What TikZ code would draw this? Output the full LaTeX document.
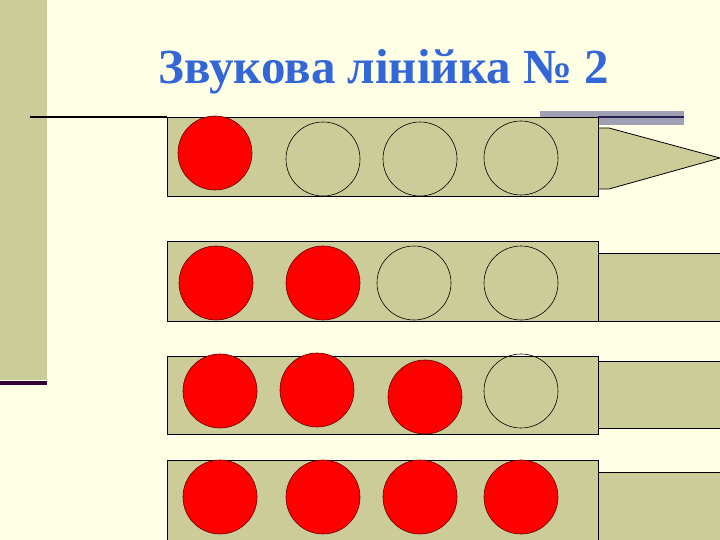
\documentclass[tikz,border=0pt]{standalone}
\usepackage{fontspec}
\setmainfont{Liberation Serif}
\usetikzlibrary{positioning}
\definecolor{paper}{RGB}{255,255,229}
\definecolor{khaki}{RGB}{204,204,153}
\definecolor{titleblue}{RGB}{51,102,214}
\definecolor{plum}{RGB}{51,0,51}
\definecolor{slate}{RGB}{160,160,180}
\definecolor{navy}{RGB}{40,30,80}

\begin{document}
\begin{tikzpicture}[x=1pt,y=-1pt,
	ruler/.style={draw=black, fill=khaki, line width=0.8pt},
	sound/.style={draw=black!60!red, fill=red, line width=0.6pt},
	hole/.style={draw=black, line width=0.6pt}]
	\useasboundingbox[fill=paper] (0,0) rectangle (720,540);
	% left band
	\fill[khaki] (0,0) rectangle (47,380);
	\fill[plum] (0,381) rectangle (47,385);
	% title
	\node[font=\bfseries\fontsize{49}{49}\selectfont, text=titleblue] (title) at (384,72) {Звукова лінійка № 2};
	% top lines
	\fill[slate] (540,111) rectangle (684,125);
	\draw[line width=1.2pt] (30,117) -- (167,117);
	\draw[navy, line width=2pt] (598,117) -- (684,117);
	% row 1
	\draw[ruler] (598,128) -- (609,128) -- (720,158) -- (609,189) -- (598,189);
	\draw[ruler] (167,117) rectangle (598,196);
	\draw[sound] (215,153) circle (37pt);
	\draw[hole] (323,159) circle (37pt);
	\draw[hole] (420,159) circle (37pt);
	\draw[hole] (521,158) circle (37pt);
	% row 2
	\draw[ruler] (720,253) -- (598,253) -- (598,321) -- (720,321);
	\draw[ruler] (167,241) rectangle (598,321);
	\draw[sound] (216,283) circle (37pt);
	\draw[sound] (323,283) circle (37pt);
	\draw[hole] (414,283) circle (37pt);
	\draw[hole] (521,283) circle (37pt);
	% row 3
	\draw[ruler] (720,361) -- (598,361) -- (598,428) -- (720,428);
	\draw[ruler] (167,356) rectangle (598,434);
	\draw[sound] (220,391) circle (37pt);
	\draw[sound] (317,390) circle (37pt);
	\draw[sound] (425,397) circle (37pt);
	\draw[hole] (521,391) circle (37pt);
	% row 4
	\fill[khaki] (598,472) rectangle (725,545);
	\draw[line width=0.8pt] (725,472) -- (598,472) -- (598,545);
	\fill[khaki] (167,460) rectangle (598,545);
	\draw[line width=0.8pt] (167,545) -- (167,460) -- (598,460) -- (598,545);
	\draw[sound] (220,497) circle (37pt);
	\draw[sound] (323,497) circle (37pt);
	\draw[sound] (420,497) circle (37pt);
	\draw[sound] (521,497) circle (37pt);
\end{tikzpicture}
\end{document}
